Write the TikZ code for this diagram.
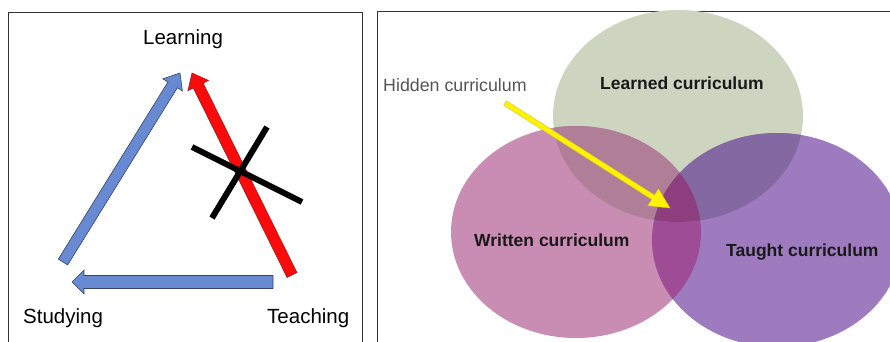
\documentclass[tikz,border=0pt]{standalone}
\usepackage{fontspec}
\setmainfont{Liberation Sans}
\usetikzlibrary{calc,positioning}

\definecolor{shaftblue}{RGB}{104,138,210}
\definecolor{edgeblue}{RGB}{52,68,104}
\definecolor{shaftred}{RGB}{250,10,10}
\definecolor{edgered}{RGB}{150,20,20}
\definecolor{learnedc}{RGB}{205,213,192}
\definecolor{writtenc}{RGB}{201,141,179}
\definecolor{taughtc}{RGB}{158,123,191}
\definecolor{lwc}{RGB}{176,126,150}
\definecolor{ltc}{RGB}{132,104,162}
\definecolor{wtc}{RGB}{158,76,150}
\definecolor{allc}{RGB}{140,62,126}
\definecolor{hiddenc}{RGB}{85,85,85}

\tikzset{
panel/.style = {draw=black!80, line width=0.9pt},
label/.style = {inner sep=0pt, anchor=base west, font=\fontsize{20.5}{24}\selectfont},
set/.style = {inner sep=0pt, anchor=base west, font=\fontsize{17.5}{20}\selectfont\bfseries, text=black!90},
bluearrow/.style = {fill=shaftblue, draw=edgeblue, line width=0.6pt, line join=miter},
redarrow/.style = {fill=shaftred, draw=edgered, line width=0.5pt},
yellowarrow/.style = {fill=yellow, draw=yellow!80!black, line width=0.4pt},
cross/.style = {draw=black, line width=6pt}
}

% block arrow: [style]{from}{to}{half shaft}{half head}{head length}
\newcommand{\fatarrow}[6][]{%
  \coordinate (hb) at ($(#3)!#6!(#2)$);
  \draw[#1] ($(#2)!#4!90:(#3)$) -- ($(hb)!#4!90:(#3)$) -- ($(hb)!#5!90:(#3)$) -- (#3)
    -- ($(hb)!#5!-90:(#3)$) -- ($(hb)!#4!-90:(#3)$) -- ($(#2)!#4!-90:(#3)$) -- cycle;
}

% the three sets
\newcommand{\learnedset}{(678,116) ellipse [x radius=125pt, y radius=106pt]}
\newcommand{\writtenset}{(576,232) ellipse [x radius=125pt, y radius=106pt]}
\newcommand{\taughtset}{(777,240) ellipse [x radius=125pt, y radius=107pt]}

\begin{document}
\begin{tikzpicture}[x=1pt, y=-1pt]

                \useasboundingbox (0,0) rectangle (890,341);
                \clip (0,0) rectangle (890,341);

                % left panel
                \draw [panel] (8,12) rectangle (362,360);
                \node [label] (learning) at (143,44) {Learning};
                \node [label] (studying) at (23,323) {Studying};
                \node [label] (teaching) at (267,323) {Teaching};

                \coordinate (s-out) at (63,262);
                \coordinate (l-in1) at (180,73);
                \coordinate (t-out1) at (273,282);
                \coordinate (s-in) at (72,282);
                \coordinate (t-out2) at (292,275);
                \coordinate (l-in2) at (192,73);

                \fatarrow[bluearrow]{s-out}{l-in1}{5.5pt}{11.5pt}{14pt}
                \fatarrow[bluearrow]{t-out1}{s-in}{6.5pt}{12pt}{12pt}
                \fatarrow[redarrow]{t-out2}{l-in2}{5.5pt}{11.5pt}{14pt}

                \draw [cross] (192,147) -- (302,202);
                \draw [cross] (267,127) -- (212,218);

                % right panel
                \draw [panel] (377,11) rectangle (900,360);
                \fill [learnedc] \learnedset;
                \fill [writtenc] \writtenset;
                \fill [taughtc] \taughtset;
                % overlaps
                \begin{scope}
                \clip \writtenset;
                \fill [wtc] \taughtset;
                \end{scope}
                \begin{scope}
                \clip \learnedset;
                \fill [lwc] \writtenset;
                \fill [ltc] \taughtset;
                \clip \writtenset;
                \fill [allc] \taughtset;
                \end{scope}

                \node [label, font=\fontsize{17.8}{20}\selectfont, text=hiddenc] (hidden) at (383,91) {Hidden curriculum};
                \node [set] (learned) at (600,89) {Learned curriculum};
                \node [set] (written) at (474,246) {Written curriculum};
                \node [set] (taught) at (726,256) {Taught curriculum};

                \coordinate (h-out) at (505,103);
                \coordinate (core) at (670,208);
                \fatarrow[yellowarrow]{h-out}{core}{2.6pt}{10pt}{20pt}

\end{tikzpicture}
\end{document}
